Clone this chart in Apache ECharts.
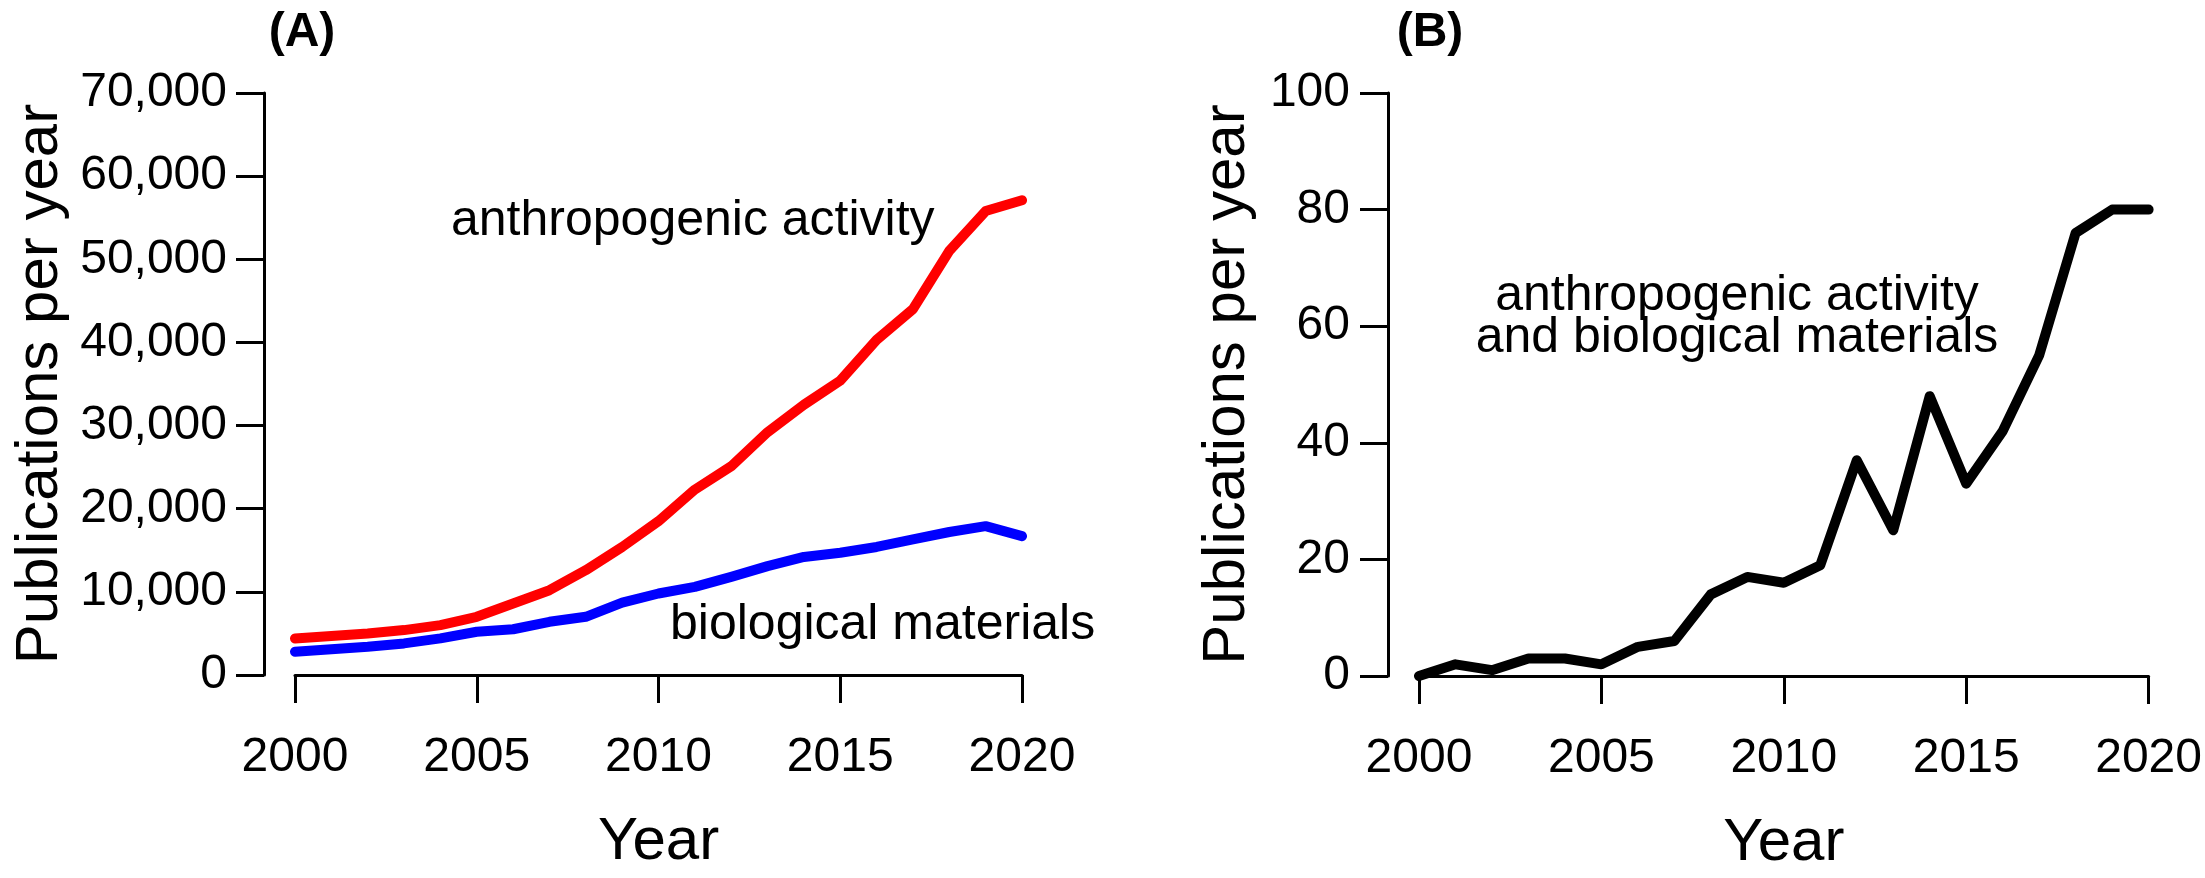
<!DOCTYPE html>
<html>
<head>
<meta charset="utf-8">
<script src="https://cdn.jsdelivr.net/npm/echarts@6/dist/echarts.min.js"></script>
<style>
html,body{margin:0;padding:0;background:#fff;}
#chart{width:2205px;height:878px;}
</style>
</head>
<body>
<div id="chart"></div>
<script>
// ---- data ----
const years = [2000,2001,2002,2003,2004,2005,2006,2007,2008,2009,2010,2011,2012,2013,2014,2015,2016,2017,2018,2019,2020];
const anthropogenic = [4400,4700,5000,5400,6000,7000,8600,10200,12600,15400,18500,22300,25100,29200,32500,35400,40300,44000,51000,55800,57100];
const biological = [2800,3100,3400,3800,4400,5200,5500,6400,7000,8700,9800,10600,11800,13100,14200,14700,15400,16300,17200,17900,16700];
const combined = [0,2,1,3,3,2,5,6,14,17,16,19,37,25,48,33,42,55,76,80,80];
const xTicks = [2000,2005,2010,2015,2020];
const yTicksA = [0,10000,20000,30000,40000,50000,60000,70000];
const yTicksB = [0,20,40,60,80,100];
const panelLabels = ['(A)','(B)'];
const annotA1 = 'anthropogenic activity';
const annotA2 = 'biological materials';
const annotB = 'anthropogenic activity\nand biological materials';
const yTitle = 'Publications per year';
const xTitle = 'Year';

const FONT = "'Liberation Sans', Arial, sans-serif";
const pairs = (vals) => years.map((y, i) => [y, vals[i]]);
const fmtComma = (v) => String(v).replace(/\B(?=(\d{3})+(?!\d))/g, ',');
const fmtPlain = (v) => String(v);

function xAxisCfg(gridIndex) {
  return {
    type: 'value', gridIndex, min: xTicks[0], max: xTicks[xTicks.length-1], interval: xTicks[1]-xTicks[0],
    position: 'bottom', offset: 24,
    name: xTitle, nameLocation: 'middle', nameGap: 113,
    nameTextStyle: {fontFamily: FONT, fontSize: 60, color: '#000'},
    axisLine: {show: true, lineStyle: {color: '#000', width: 3}},
    axisTick: {show: true, length: 28, lineStyle: {color: '#000', width: 3}},
    axisLabel: {margin: 35, fontFamily: FONT, fontSize: 48, color: '#000', formatter: fmtPlain},
    splitLine: {show: false}
  };
}
function yAxisCfg(gridIndex, ticks, gap, margin, fmt) {
  return {
    type: 'value', gridIndex, min: ticks[0], max: ticks[ticks.length-1], interval: ticks[1]-ticks[0],
    position: 'left', offset: 31,
    name: yTitle, nameLocation: 'middle', nameGap: gap, nameRotate: 90,
    nameTextStyle: {fontFamily: FONT, fontSize: 60, color: '#000'},
    axisLine: {show: true, lineStyle: {color: '#000', width: 3}},
    axisTick: {show: true, length: 28, lineStyle: {color: '#000', width: 3}},
    axisLabel: {margin: margin, fontFamily: FONT, fontSize: 48, color: '#000', formatter: fmt},
    splitLine: {show: false}
  };
}
function lineSeries(xi, data, color) {
  return {
    type: 'line', xAxisIndex: xi, yAxisIndex: xi, data, showSymbol: false, symbol: 'none',
    clip: false, animation: false,
    lineStyle: {color, width: 10, cap: 'round', join: 'round'}
  };
}
function txt(x, y, text, opts) {
  return {
    type: 'text', x, y, silent: true,
    style: Object.assign({text, fontFamily: FONT, fontSize: 50, fill: '#000',
      textAlign: 'left', textVerticalAlign: 'middle'}, opts || {})
  };
}

const chart = echarts.init(document.getElementById('chart'), null, {renderer: 'canvas'});
chart.setOption({
  backgroundColor: '#fff',
  animation: false,
  grid: [
    {left: 295, top: 93, width: 727, height: 582, containLabel: false},
    {left: 1419, top: 93, width: 731, height: 583, containLabel: false}
  ],
  xAxis: [xAxisCfg(0), xAxisCfg(1)],
  yAxis: [
    yAxisCfg(0, yTicksA, 194, 37, fmtComma),
    yAxisCfg(1, yTicksB, 131, 38, fmtPlain)
  ],
  series: [
    lineSeries(0, pairs(anthropogenic), '#ff0000'),
    lineSeries(0, pairs(biological), '#0000ff'),
    lineSeries(1, pairs(combined), '#000000')
  ],
  graphic: [
    txt(302, 33, panelLabels[0], {fontWeight: 'bold', fontSize: 48, textAlign: 'center'}),
    txt(1430, 33, panelLabels[1], {fontWeight: 'bold', fontSize: 48, textAlign: 'center'}),
    txt(451, 221, annotA1),
    txt(670, 625, annotA2),
    txt(1737, 317, annotB, {textAlign: 'center', lineHeight: 42})
  ]
});
</script>
</body>
</html>
